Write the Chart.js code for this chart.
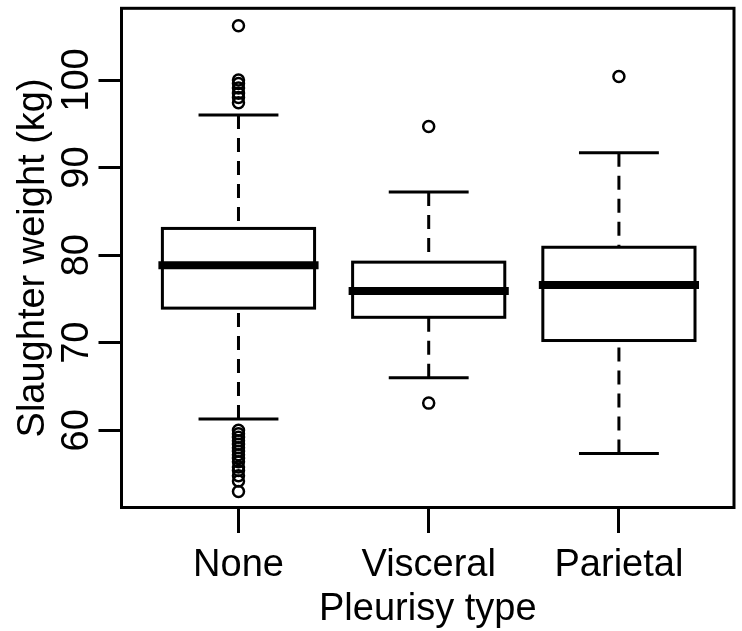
<!DOCTYPE html>
<html>
<head>
<meta charset="utf-8">
<script src="https://cdn.jsdelivr.net/npm/chart.js@4/dist/chart.umd.min.js"></script>
<style>
  html, body { margin: 0; padding: 0; background: #fff; }
  #wrap { width: 742px; height: 631px; }
</style>
</head>
<body>
<div id="wrap"><canvas id="chart"></canvas></div>
<script>
// boxplot stats
const categories = ['None', 'Visceral', 'Parietal'];
const whiskerLow = [61.3, 66.0, 57.35];
const q1 = [73.95, 72.9, 70.25];
const median = [78.85, 75.9, 76.6];
const q3 = [83.05, 79.2, 80.9];
const whiskerHigh = [96.0, 87.2, 91.7];

const outliersNone = [106.2, 100.0, 99.6, 99.1, 98.5, 98.0, 97.4,
    60.0, 59.6, 59.2, 58.8, 58.4, 58.0, 57.6, 57.2, 56.8, 56.4, 55.8, 55.4, 54.8, 54.2, 53.0];
const outliersVisceral = [94.7, 63.1];
const outliersParietal = [100.4];

const yTicks = [60, 70, 80, 90, 100];

const FONT = "'Liberation Sans', Arial, sans-serif";

const outlierPoints = [];
[outliersNone, outliersVisceral, outliersParietal].forEach((arr, i) => {
    arr.forEach(v => outlierPoints.push({ x: i + 1, y: v }));
});

// boxes, whiskers and the frame, drawn through the chart's scales
const boxPlugin = {
    id: 'boxes',
    beforeDatasetsDraw(chart) {
        const { ctx, scales: { x, y } } = chart;
        ctx.save();
        ctx.strokeStyle = '#000';
        categories.forEach((c, i) => {
            const pos = i + 1;
            const cx = x.getPixelForValue(pos);
            const bl = x.getPixelForValue(pos - 0.4);
            const br = x.getPixelForValue(pos + 0.4);
            const sl = x.getPixelForValue(pos - 0.21);
            const sr = x.getPixelForValue(pos + 0.21);

            // dashed whiskers, from the whisker end towards the box
            ctx.lineWidth = 3;
            ctx.lineCap = 'butt';
            ctx.setLineDash([14, 9]);
            ctx.beginPath();
            ctx.moveTo(cx, y.getPixelForValue(whiskerLow[i]));
            ctx.lineTo(cx, y.getPixelForValue(q1[i]));
            ctx.moveTo(cx, y.getPixelForValue(whiskerHigh[i]));
            ctx.lineTo(cx, y.getPixelForValue(q3[i]));
            ctx.stroke();
            ctx.setLineDash([]);

            // staples
            ctx.beginPath();
            ctx.moveTo(sl, y.getPixelForValue(whiskerLow[i]));
            ctx.lineTo(sr, y.getPixelForValue(whiskerLow[i]));
            ctx.moveTo(sl, y.getPixelForValue(whiskerHigh[i]));
            ctx.lineTo(sr, y.getPixelForValue(whiskerHigh[i]));
            ctx.stroke();

            // box
            const top = y.getPixelForValue(q3[i]);
            const bot = y.getPixelForValue(q1[i]);
            ctx.fillStyle = '#fff';
            ctx.fillRect(bl, top, br - bl, bot - top);
            ctx.strokeRect(bl, top, br - bl, bot - top);

            // median
            ctx.lineWidth = 8;
            ctx.lineCap = 'square';
            ctx.beginPath();
            ctx.moveTo(bl, y.getPixelForValue(median[i]));
            ctx.lineTo(br, y.getPixelForValue(median[i]));
            ctx.stroke();
        });
        ctx.restore();
    },
    afterDraw(chart) {
        const { ctx, chartArea: a } = chart;
        ctx.save();
        ctx.strokeStyle = '#000';
        ctx.lineWidth = 3;
        ctx.strokeRect(a.left, a.top, a.right - a.left, a.bottom - a.top);
        ctx.restore();
    }
};

new Chart(document.getElementById('chart'), {
    type: 'scatter',
    data: {
        datasets: [{
            label: 'Outliers',
            data: outlierPoints,
            pointStyle: 'circle',
            pointRadius: 5.5,
            pointBorderWidth: 2.5,
            pointBorderColor: '#000',
            pointBackgroundColor: 'rgba(0,0,0,0)',
            pointHoverRadius: 5.5
        }]
    },
    options: {
        responsive: true,
        maintainAspectRatio: false,
        animation: false,
        layout: { padding: { top: 6.5, right: 5.5, left: 0, bottom: 0 } },
        plugins: {
            legend: { display: false },
            tooltip: { enabled: false }
        },
        scales: {
            x: {
                type: 'linear',
                min: 0.385,
                max: 3.605,
                afterBuildTicks: (s) => { s.ticks = categories.map((c, i) => ({ value: i + 1 })); },
                afterFit: (s) => { s.height = 123.5; },
                ticks: {
                    color: '#000',
                    font: { family: FONT, size: 38, lineHeight: 1 },
                    padding: 14,
                    maxRotation: 0,
                    autoSkip: false,
                    callback: (v) => categories[v - 1]
                },
                grid: { drawOnChartArea: false, tickLength: 25.5, lineWidth: 3, color: '#000' },
                border: { display: false },
                title: {
                    display: true,
                    text: 'Pleurisy type',
                    color: '#000',
                    font: { family: FONT, size: 38, lineHeight: 1 },
                    padding: { top: 0, bottom: 2 }
                }
            },
            y: {
                min: 51.18,
                max: 108.19,
                afterBuildTicks: (s) => { s.ticks = yTicks.map(v => ({ value: v })); },
                afterFit: (s) => { s.width = 121.5; },
                ticks: {
                    color: '#000',
                    font: { family: FONT, size: 38, lineHeight: 1 },
                    minRotation: 90,
                    maxRotation: 90,
                    crossAlign: 'center',
                    padding: -10.7
                },
                grid: { drawOnChartArea: false, tickLength: 23, lineWidth: 3, color: '#000' },
                border: { display: false },
                title: {
                    display: true,
                    text: 'Slaughter weight (kg)',
                    color: '#000',
                    font: { family: FONT, size: 38, lineHeight: 1 },
                    padding: { top: 15, bottom: 0 }
                }
            }
        }
    },
    plugins: [boxPlugin]
});
</script>
</body>
</html>
